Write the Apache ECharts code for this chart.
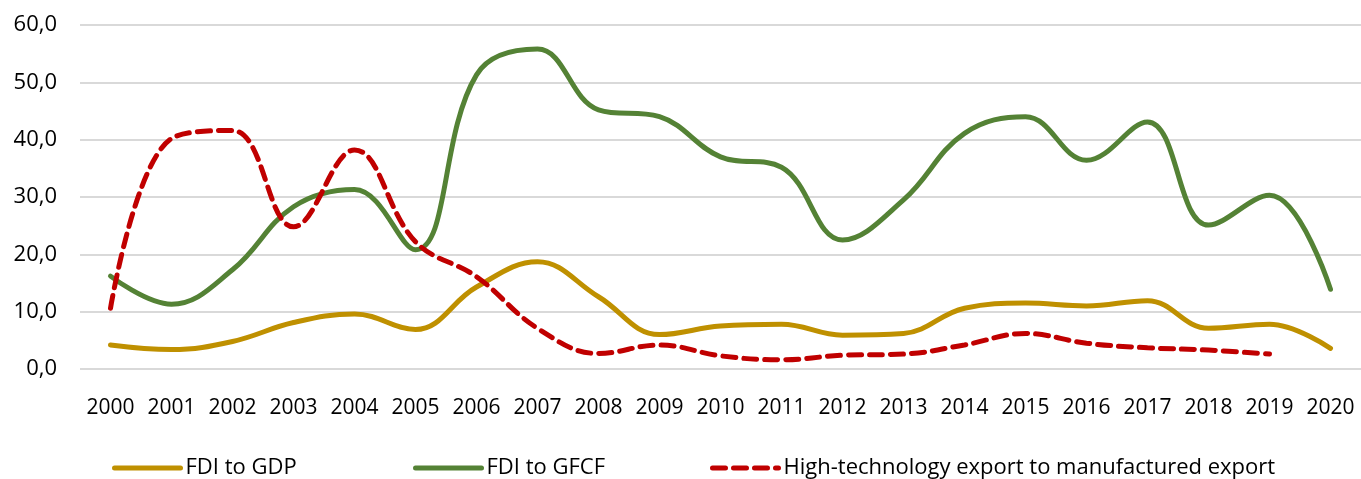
<!DOCTYPE html>
<html>
<head>
<meta charset="utf-8">
<script src="https://cdn.jsdelivr.net/npm/echarts@6/dist/echarts.min.js"></script>
<style>
  html, body { margin: 0; padding: 0; background: #fff; }
  #chart { width: 1361px; height: 479px; }
</style>
</head>
<body>
<div id="chart"></div>
<script>
// 数据
const years = ['2000', '2001', '2002', '2003', '2004', '2005', '2006', '2007', '2008', '2009', '2010',
  '2011', '2012', '2013', '2014', '2015', '2016', '2017', '2018', '2019', '2020']
const fdiToGdp = [4.2, 3.4, 4.8, 8.1, 9.6, 6.9, 14.3, 18.7, 12.6, 6.0, 7.5,
  7.8, 5.9, 6.2, 10.6, 11.5, 11.0, 11.9, 7.1, 7.8, 3.6]
const fdiToGfcf = [16.2, 11.3, 17.3, 28.3, 31.3, 20.8, 51.3, 55.8, 45.2, 44.0, 37.0,
  35.2, 22.5, 29.5, 41.1, 44.0, 36.4, 43.1, 25.1, 30.3, 13.9]
const hiTechExport = [10.6, 40.2, 41.6, 24.8, 38.2, 22.2, 16.1, 7.1, 2.7, 4.2, 2.3,
  1.6, 2.4, 2.6, 4.2, 6.2, 4.5, 3.7, 3.3, 2.6, null]
const seriesNames = ['FDI to GDP', 'FDI to GFCF', 'High-technology export to manufactured export']

const font = "'Open Sans', sans-serif"
const chart = echarts.init(document.querySelector('#chart'))

// 图例：三个分开放，位置照原图；只画线，不画圆点
function makeLegend(name, left) {
  return {
    data: [name],
    left: left,
    top: 452,
    itemWidth: 66,
    itemHeight: 14,
    itemGap: 0,
    itemStyle: { opacity: 0 },
    lineStyle: { width: 5 },
    textStyle: { fontFamily: font, fontSize: 22, color: '#000' },
  }
}

// 线样式
function lineSeries(name, data, color, dash) {
  return {
    name: name,
    type: 'line',
    data: data,
    smooth: 0.4,
    symbol: 'none',
    lineStyle: { color: color, width: 5, type: dash || 'solid', cap: 'round' },
    itemStyle: { color: color },
  }
}

const option = {
  animation: false,
  backgroundColor: '#fff',
  grid: { left: 80, right: 0, top: 25, bottom: 110 },
  legend: [
    makeLegend(seriesNames[0], 107),
    makeLegend(seriesNames[1], 408),
    makeLegend(seriesNames[2], 705),
  ],
  xAxis: {
    type: 'category',
    data: years,
    boundaryGap: true,
    axisLine: { show: false },
    axisTick: { show: false },
    axisLabel: { interval: 0, fontFamily: font, fontSize: 21, color: '#000', margin: 29 },
  },
  yAxis: {
    type: 'value',
    min: 0,
    max: 60,
    interval: 10,
    axisLine: { show: false },
    axisTick: { show: false },
    axisLabel: {
      fontFamily: font,
      fontSize: 22,
      color: '#000',
      margin: 23,
      formatter: v => v.toFixed(1).replace('.', ','),
    },
    splitLine: { lineStyle: { color: '#d9d9d9', width: 2 } },
  },
  series: [
    lineSeries(seriesNames[0], fdiToGdp, '#bf9000'),
    lineSeries(seriesNames[1], fdiToGfcf, '#548235'),
    lineSeries(seriesNames[2], hiTechExport, '#c00000', [13, 8]),
  ],
}
chart.setOption(option)
</script>
</body>
</html>
